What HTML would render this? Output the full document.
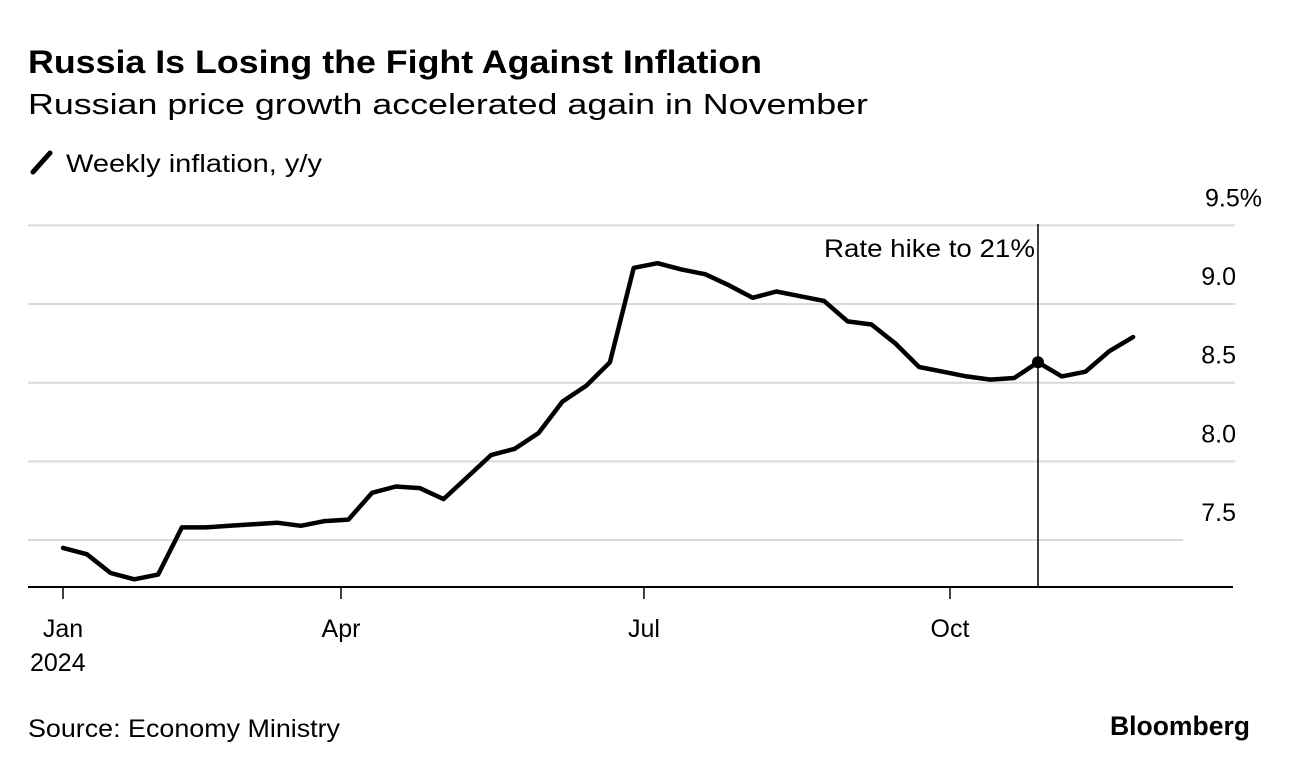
<!DOCTYPE html>
<html><head><meta charset="utf-8"><style>
html,body{margin:0;padding:0;background:#fff;}
svg{display:block;font-family:"Liberation Sans",sans-serif;}
</style></head><body>
<svg id="chart" width="1289" height="770" viewBox="0 0 1289 770">
<text x="28" y="73" font-size="32" font-weight="bold" textLength="734" lengthAdjust="spacingAndGlyphs" fill="#000">Russia Is Losing the Fight Against Inflation</text>
<text x="28" y="114" font-size="29" textLength="840" lengthAdjust="spacingAndGlyphs" fill="#000">Russian price growth accelerated again in November</text>
<g>
<line x1="33" y1="172" x2="50" y2="153" stroke="#000" stroke-width="5" stroke-linecap="round"/>
<text x="66" y="172" font-size="25" textLength="256" lengthAdjust="spacingAndGlyphs">Weekly inflation, y/y</text>
</g>
<g id="grid"></g>
<g id="xaxis"></g>
<g id="annot"></g>
<g id="series"></g>
<text x="28" y="737" font-size="25" textLength="312" lengthAdjust="spacingAndGlyphs">Source: Economy Ministry</text>
<text x="1250" y="735" font-size="27" font-weight="bold" text-anchor="end" textLength="140" lengthAdjust="spacingAndGlyphs">Bloomberg</text>
</svg>
<script>
const values = [7.45,7.41,7.29,7.25,7.28,7.58,7.58,7.59,7.60,7.61,7.59,7.62,7.63,7.80,7.84,7.83,7.76,7.90,8.04,8.08,8.18,8.38,8.48,8.63,9.23,9.26,9.22,9.19,9.12,9.04,9.08,9.05,9.02,8.89,8.87,8.75,8.60,8.57,8.54,8.52,8.53,8.63,8.54,8.57,8.70,8.79];
const yTicks = [7.5,8.0,8.5,9.0,9.5];
const yTickLabels = ["7.5","8.0","8.5","9.0","9.5%"];
const xTickWeeks = [0,11.69,24.43,37.3];
const xTickLabels = ["Jan","Apr","Jul","Oct"];
const eventWeek = [41];
const eventLabel = ["Rate hike to 21%"];

const NS="http://www.w3.org/2000/svg";
function xs(i){return 63+i*23.78;}
function ys(v){return 540-(v-7.5)*157.3;}
function mk(tag,attrs,parent){const e=document.createElementNS(NS,tag);for(const k in attrs)e.setAttribute(k,attrs[k]);parent.appendChild(e);return e;}
const grid=document.getElementById('grid'),xa=document.getElementById('xaxis'),an=document.getElementById('annot'),se=document.getElementById('series');

yTicks.forEach((t,i)=>{
  const y=ys(t);
  const l=mk('line',{x1:28,x2:(i===0?1183:1235),y1:y,y2:y,stroke:'#d9d9d9','stroke-width':2},grid);
  
  
  const tx=mk('text',{x:1236,y:y-19,'font-size':25,'text-anchor':'end'},grid);
  tx.textContent=yTickLabels[i];
  if(i===yTicks.length-1){tx.setAttribute('x',1262);}
  
  
});
const base=mk('line',{x1:28,x2:1233,y1:587,y2:587,stroke:'#000','stroke-width':2},xa);


xTickWeeks.forEach((w,i)=>{
  const x=xs(w);
  const t=mk('line',{x1:x,x2:x,y1:587,y2:599,stroke:'#000','stroke-width':1.5},xa);
  
  
  const tx=mk('text',{x:x,y:637,'font-size':25,'text-anchor':'middle'},xa);
  tx.textContent=xTickLabels[i];
  
  
});
const yr=mk('text',{x:30,y:671,'font-size':25},xa);
yr.textContent="2024";



const ex=xs(eventWeek[0]);
const vl=mk('line',{x1:ex,x2:ex,y1:224,y2:587,stroke:'#000','stroke-width':1.5},an);


const at=mk('text',{x:ex-3,y:257,'font-size':25,'text-anchor':'end',textLength:211,lengthAdjust:'spacingAndGlyphs'},an);
at.textContent=eventLabel[0];



const pts=values.map((v,i)=>xs(i).toFixed(1)+','+ys(v).toFixed(1)).join(' ');
const pl=mk('polyline',{points:pts,fill:'none',stroke:'#000','stroke-width':4.5,'stroke-linejoin':'round','stroke-linecap':'round'},se);


const dot=mk('circle',{cx:ex,cy:ys(values[eventWeek[0]]),r:6,fill:'#000'},se);


</script>
</body></html>
